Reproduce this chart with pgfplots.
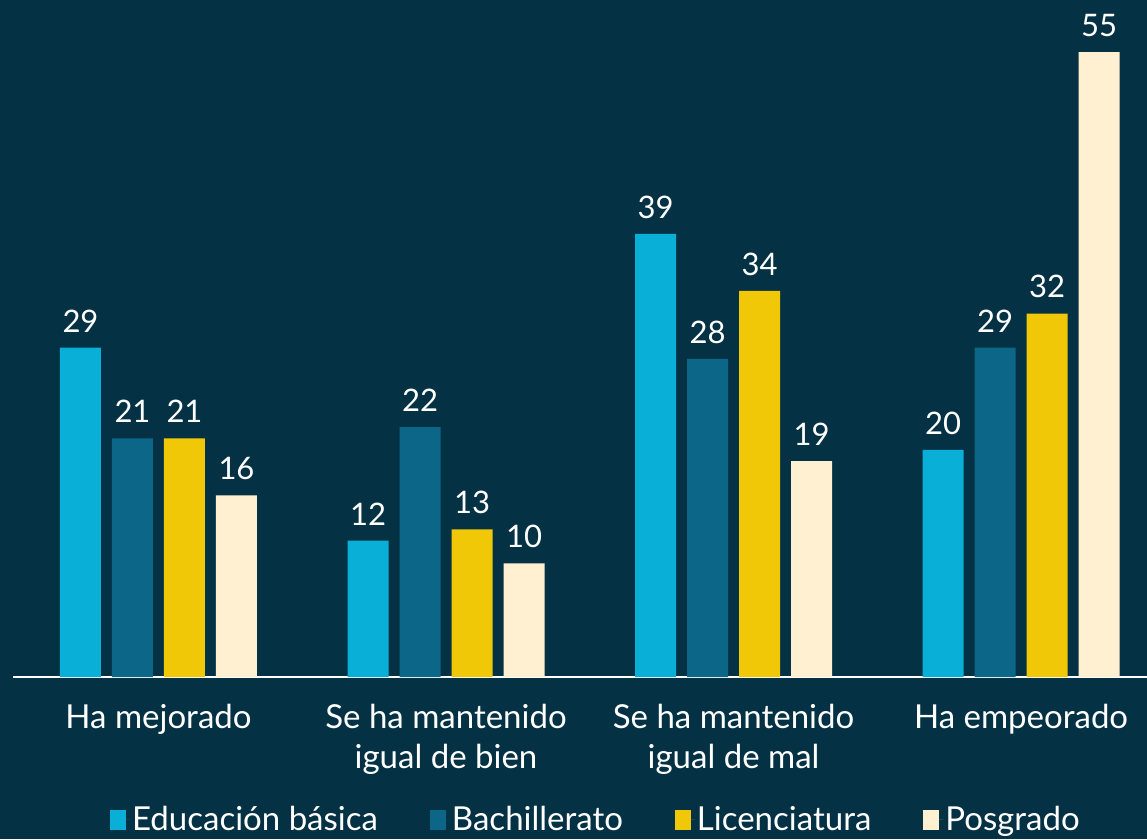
\documentclass[border=0pt]{standalone}
\usepackage{pgfplots}
\pgfplotsset{compat=1.18}
\usepackage{fontspec}
\setmainfont{Lato}
\definecolor{bg}{HTML}{043244}
\definecolor{cA}{HTML}{09AFD6}
\definecolor{cB}{HTML}{0B6688}
\definecolor{cC}{HTML}{F0C808}
\definecolor{cD}{HTML}{FFF0D1}
\begin{document}
\begin{tikzpicture}[x=1pt,y=1pt]
\path[use as bounding box,fill=bg] (0,0) rectangle (1147,839);
\begin{axis}[
  at={(13pt,162pt)}, anchor=south west,
  scale only axis, width=1134pt, height=677pt,
  xmin=-0.506, xmax=3.438, ymin=0, ymax=59.6,
  ybar=11pt, bar width=41pt,
  axis y line=none, axis x line*=bottom,
  x axis line style={white, line width=2.5pt, -},
  xtick={0,1,2,3}, major tick length=0pt,
  xticklabels={Ha mejorado, {Se ha mantenido\\igual de bien}, {Se ha mantenido\\igual de mal}, Ha empeorado},
  xticklabel style={align=center, text=white, font=\fontsize{33}{40}\selectfont, yshift=-24pt},
  /pgf/number format/assume math mode=true,
  nodes near coords, every node near coord/.append style={text=white, font=\fontsize{31}{33}\selectfont, yshift=12pt},
  legend columns=4,
  legend style={at={(0.514,-0.210)}, anchor=center, draw=none, fill=none, text=white, font=\fontsize{33}{35}\selectfont,
    /tikz/every even column/.append style={column sep=50pt}},
  legend image code/.code={\fill[#1,draw=none] (0pt,-11pt) rectangle (16pt,9pt); \path (0pt,0pt) -- (20pt,0pt);},
  clip=false,
]
\addplot[fill=cA, draw=none] coordinates {(0,29) (1,12) (2,39) (3,20)};
\addplot[fill=cB, draw=none] coordinates {(0,21) (1,22) (2,28) (3,29)};
\addplot[fill=cC, draw=none] coordinates {(0,21) (1,13) (2,34) (3,32)};
\addplot[fill=cD, draw=none] coordinates {(0,16) (1,10) (2,19) (3,55)};
\legend{Educación básica, Bachillerato, Licenciatura, Posgrado}
\end{axis}
\end{tikzpicture}
\end{document}
